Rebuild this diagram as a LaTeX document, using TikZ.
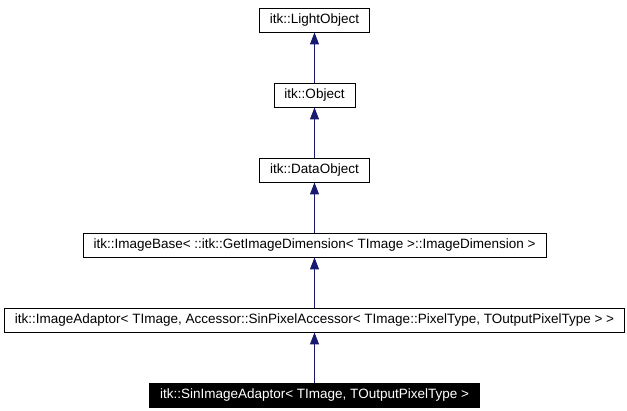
\documentclass[tikz,border=0pt]{standalone}
\usepackage{fontspec}
\setmainfont{Liberation Sans}
\usetikzlibrary{arrows.meta}
\definecolor{edgeblue}{HTML}{191970}
\begin{document}
\begin{tikzpicture}[x=1pt,y=-1pt,
  cls/.style={draw=black, line width=0.9pt, fill=white, inner xsep=10.5pt, inner ysep=0pt,
    minimum height=24pt, font=\fontsize{13.5}{15}\selectfont, anchor=center},
  cur/.style={cls, fill=black, text=white},
  inh/.style={draw=edgeblue, line width=1pt, -{Triangle[length=12pt,width=9pt]}}]
\useasboundingbox (0,0) rectangle (627,411);
\node[cls] (light) at (314.5,20) {itk::LightObject};
\node[cls] (obj) at (314.5,95) {itk::Object};
\node[cls] (data) at (314.5,170) {itk::DataObject};
\node[cls] (base) at (314.5,245) {itk::ImageBase< ::itk::GetImageDimension< TImage >::ImageDimension >};
\node[cls] (adapt) at (314.5,320) {itk::ImageAdaptor< TImage, Accessor::SinPixelAccessor< TImage::PixelType, TOutputPixelType > >};
\node[cur] (sin) at (314.5,395) {itk::SinImageAdaptor< TImage, TOutputPixelType >};
\draw[inh] (obj.north) -- (light.south);
\draw[inh] (data.north) -- (obj.south);
\draw[inh] (base.north) -- (data.south);
\draw[inh] (adapt.north) -- (base.south);
\draw[inh] (sin.north) -- (adapt.south);
\end{tikzpicture}
\end{document}
